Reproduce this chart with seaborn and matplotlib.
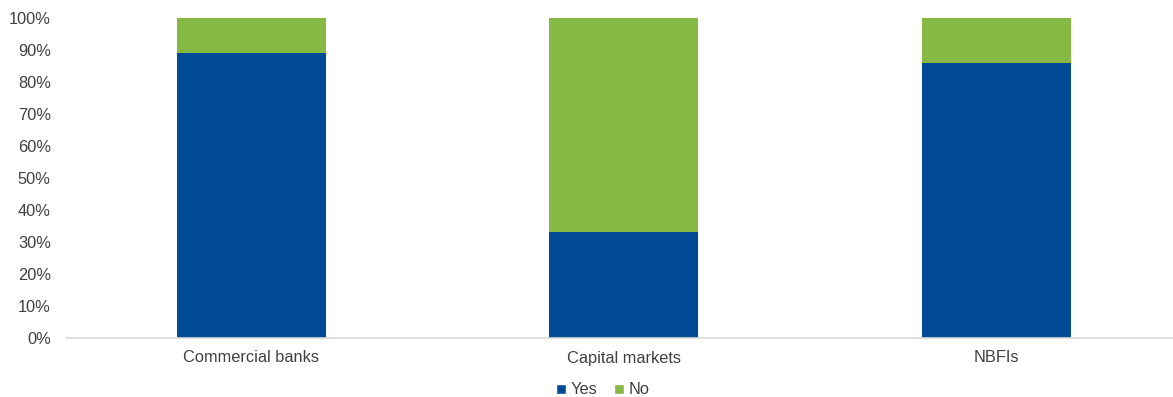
import matplotlib
matplotlib.use("Agg")
import matplotlib.pyplot as plt
import seaborn as sns
import pandas as pd
from matplotlib.patches import Patch
from matplotlib.ticker import FuncFormatter

categories = ["Commercial banks", "Capital markets", "NBFIs"]
yes_values = [89, 33, 86]
no_values = [11, 67, 14]
yticks = [0, 10, 20, 30, 40, 50, 60, 70, 80, 90, 100]

BLUE = "#014A96"
GREEN = "#86B943"
TEXT = "#404040"

sns.set_theme(style="white")
plt.rcParams["font.family"] = ["Liberation Sans", "DejaVu Sans"]

df = pd.DataFrame({
    "category": categories,
    "Yes": yes_values,
    "No": no_values,
})
df["Total"] = df["Yes"] + df["No"]

fig = plt.figure(figsize=(11.73, 3.97), dpi=100)
ax = fig.add_axes([66 / 1173, 59 / 397, 1 - 66 / 1173, 320 / 397])

sns.barplot(data=df, x="category", y="Total", color=GREEN, saturation=1,
            width=0.4, ax=ax, linewidth=0)
sns.barplot(data=df, x="category", y="Yes", color=BLUE, saturation=1,
            width=0.4, ax=ax, linewidth=0)

ax.set_xlim(-0.497, 2.475)
ax.set_ylim(0, 100)
ax.set_yticks(yticks)
ax.yaxis.set_major_formatter(FuncFormatter(lambda v, p: f"{int(v)}%"))
ax.set_xlabel("")
ax.set_ylabel("")
ax.tick_params(axis="both", length=0, labelsize=11.8, labelcolor=TEXT)
ax.tick_params(axis="x", pad=9)
ax.tick_params(axis="y", pad=11)

for s in ["top", "right", "left"]:
    ax.spines[s].set_visible(False)
ax.spines["bottom"].set_color("#D9D9D9")
ax.spines["bottom"].set_linewidth(1.2)

handles = [Patch(facecolor=BLUE, label="Yes"), Patch(facecolor=GREEN, label="No")]
fig.legend(handles=handles, loc="center", bbox_to_anchor=(603 / 1173, 1 - 390 / 397),
           ncol=2, frameon=False, fontsize=11.8, handlelength=0.6, handleheight=0.6,
           handletextpad=0.3, columnspacing=1.0, labelcolor=TEXT)

fig.savefig("out.png", dpi=100)
